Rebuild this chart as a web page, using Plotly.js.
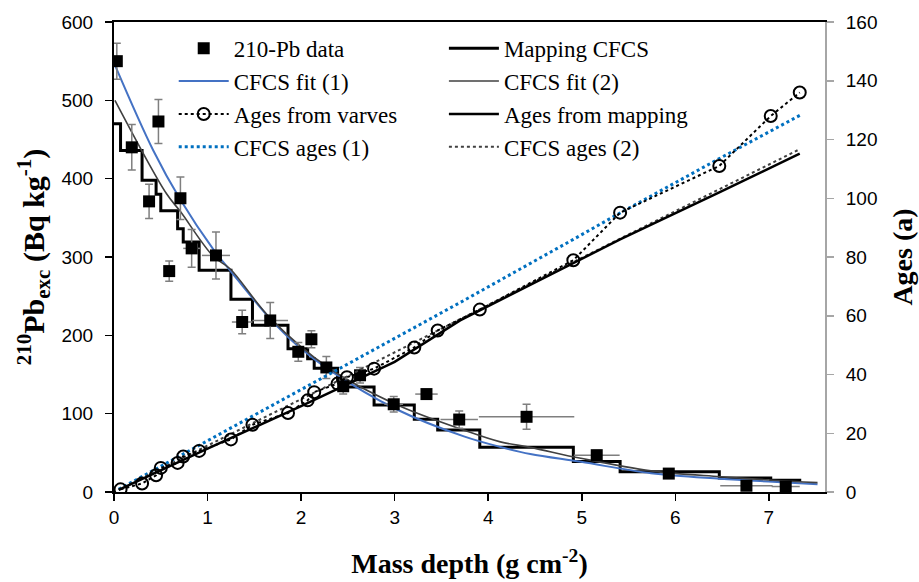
<!DOCTYPE html>
<html>
<head>
<meta charset="utf-8">
<script src="https://cdn.plot.ly/plotly-3.0.1.min.js"></script>
<style>html,body{margin:0;padding:0;background:#fff;}#chart{width:919px;height:582px;}</style>
</head>
<body>
<div id="chart"></div>
<script>
// 210-Pb excess data (left axis)
const pbDepth = [0.03, 0.19, 0.375, 0.475, 0.59, 0.71, 0.83, 1.09, 1.37, 1.67, 1.97, 2.11, 2.27, 2.45, 2.63, 2.99, 3.34, 3.69, 4.41, 5.16, 5.93, 6.76, 7.18];
const pbValue = [550, 440, 371, 473, 282, 375, 311, 302, 217, 219, 179, 195, 159, 135, 149, 112, 125, 92.5, 96, 47, 23.5, 8, 7];
const pbErrY = [23, 29, 22, 28, 13, 27, 24, 30, 15, 23, 12, 11, 14, 10, 10, 10, 6, 11, 16, 6, 4, 3, 3];
const pbErrX = [0, 0, 0, 0, 0, 0, 0.09, 0.15, 0.11, 0.19, 0, 0, 0, 0, 0, 0.1, 0.12, 0.2, 0.51, 0.245, 0, 0.28, 0.15];

// Mapping CFCS step profile (boundaries and levels)
const mapDepth = [0, 0.07, 0.30, 0.45, 0.50, 0.68, 0.74, 0.91, 1.25, 1.48, 1.86, 2.07, 2.14, 2.39, 2.49, 2.78, 3.21, 3.46, 3.91, 4.91, 5.41, 6.47, 7.02, 7.33];
const mapValue = [470, 436, 398, 380, 359, 336, 319, 283, 246, 213, 183, 170, 158, 142, 134, 111, 93, 79, 57, 39, 26, 18, 15, 13];

// CFCS fit (1)
const fit1Depth = [0.01, 0.42, 0.71, 1.06, 1.24, 1.67, 1.96, 2.3, 3.03, 3.74, 4.13, 4.45, 4.99, 5.74, 6.48, 7.04, 7.52];
const fit1Value = [545, 436, 373, 310, 283, 221, 187, 156, 105, 71, 57.5, 48.5, 38.5, 24, 17, 13, 9.8];
// CFCS fit (2)
const fit2Depth = [0.01, 0.56, 0.71, 1.06, 1.24, 1.67, 2.3, 3.03, 3.74, 4.13, 4.45, 4.99, 5.74, 6.48, 7.04, 7.52];
const fit2Value = [500, 381, 358, 301, 285, 222, 158, 111, 79, 64, 57, 43, 27, 19.5, 15, 12];

// Ages from varves (right axis)
const varveDepth = [0.07, 0.30, 0.45, 0.50, 0.68, 0.74, 0.91, 1.25, 1.48, 1.86, 2.07, 2.14, 2.39, 2.49, 2.78, 3.21, 3.46, 3.91, 4.91, 5.41, 6.47, 7.02, 7.33];
const varveAge = [0.9, 2.9, 5.7, 8.2, 9.9, 12.1, 14, 17.9, 22.9, 26.9, 31.2, 34, 36.9, 39.1, 42, 49.2, 55, 62.1, 78.9, 95.1, 111, 128, 136];

// Ages from mapping
const mapAgeDepth = [0.05, 1, 2, 3, 3.7, 4.91, 5.41, 6.47, 7.33];
const mapAge = [0.7, 14.8, 29.2, 44.3, 58.4, 77.8, 86, 102, 115.2];
// CFCS ages (1)
const age1Depth = [0.05, 1, 2, 3, 3.7, 4.91, 5.41, 6.47, 7.33];
const age1 = [0.9, 17.5, 35, 52.3, 64.5, 86, 95, 113.5, 128.2];
// CFCS ages (2)
const age2Depth = [0.05, 2.5, 4.91, 7.33];
const age2 = [0.8, 39.5, 78.3, 116.7];

const xTicks = [0, 1, 2, 3, 4, 5, 6, 7];

const serif = "Liberation Serif";
const sans = "Liberation Sans";

const traces = [
  {x: mapDepth, y: mapValue, name: 'Mapping CFCS', type: 'scatter', mode: 'lines',
   line: {color: '#000000', width: 3, shape: 'hv'}, legend: 'legend2', legendrank: 1},
  {x: fit1Depth, y: fit1Value, name: 'CFCS fit (1)', type: 'scatter', mode: 'lines',
   line: {color: '#4472C4', width: 2, shape: 'spline'}, legend: 'legend', legendrank: 2},
  {x: fit2Depth, y: fit2Value, name: 'CFCS fit (2)', type: 'scatter', mode: 'lines',
   line: {color: '#404040', width: 1.6, shape: 'spline'}, legend: 'legend2', legendrank: 2},
  {x: age1Depth, y: age1, name: 'CFCS ages (1)', type: 'scatter', mode: 'lines', yaxis: 'y2',
   line: {color: '#0070C0', width: 3, dash: 'dot'}, legend: 'legend', legendrank: 4},
  {x: age2Depth, y: age2, name: 'CFCS ages (2)', type: 'scatter', mode: 'lines', yaxis: 'y2',
   line: {color: '#404040', width: 2, dash: 'dot'}, legend: 'legend2', legendrank: 4},
  {x: mapAgeDepth, y: mapAge, name: 'Ages from mapping', type: 'scatter', mode: 'lines', yaxis: 'y2',
   line: {color: '#000000', width: 2.5}, legend: 'legend2', legendrank: 3},
  {x: varveDepth, y: varveAge, name: 'Ages from varves', type: 'scatter', mode: 'lines+markers', yaxis: 'y2',
   line: {color: '#000000', width: 2, dash: 'dot'},
   marker: {symbol: 'circle-open', size: 12, color: '#000000', line: {width: 2, color: '#000000'}},
   legend: 'legend', legendrank: 3},
  {x: pbDepth, y: pbValue, name: '210-Pb data', type: 'scatter', mode: 'markers',
   marker: {symbol: 'square', size: 12, color: '#000000'},
   error_y: {type: 'data', array: pbErrY, visible: true, color: '#7F7F7F', thickness: 1.5, width: 4},
   error_x: {type: 'data', array: pbErrX, visible: true, color: '#7F7F7F', thickness: 1.5, width: 0},
   legend: 'legend', legendrank: 1}
];

function legendCfg(xPos) {
  return {
    orientation: 'v', xanchor: 'left', yanchor: 'top', x: xPos, y: 0.99,
    bgcolor: 'rgba(0,0,0,0)', borderwidth: 0, itemwidth: 50, tracegroupgap: 0,
    font: {family: serif, size: 23, color: '#000000'}
  };
}

const layout = {
  width: 919, height: 582,
  margin: {l: 114, r: 94, t: 22, b: 90},
  paper_bgcolor: '#ffffff', plot_bgcolor: '#ffffff',
  font: {family: serif, color: '#000000'},
  showlegend: true,
  legend: legendCfg(0.084),
  legend2: legendCfg(0.464),
  xaxis: {
    range: [0, 7.6], tickvals: xTicks, ticktext: xTicks.map(String),
    showgrid: false, zeroline: false,
    showline: true, linecolor: '#000000', linewidth: 2, mirror: true,
    ticks: 'outside', ticklen: 7, tickwidth: 1.5, tickcolor: '#000000',
    tickfont: {family: sans, size: 19, color: '#000000'},
    title: {text: 'Mass depth (g cm<sup>-2</sup>)', font: {family: serif, size: 28, color: '#000000', weight: 700}, standoff: 27}
  },
  yaxis: {
    range: [0, 600], dtick: 100, showgrid: false, zeroline: false,
    showline: true, linecolor: '#000000', linewidth: 2,
    ticks: 'outside', ticklen: 7, tickwidth: 1.5, tickcolor: '#000000', ticklabelstandoff: 8,
    tickfont: {family: sans, size: 19, color: '#000000'},
    title: {text: '<sup>210</sup>Pb<sub>exc</sub> (Bq kg<sup>-1</sup>)', font: {family: serif, size: 30, color: '#000000', weight: 700}, standoff: 8}
  },
  yaxis2: {
    range: [0, 160], dtick: 20, overlaying: 'y', side: 'right',
    showgrid: false, zeroline: false,
    showline: true, linecolor: '#A6A6A6', linewidth: 2,
    ticks: 'outside', ticklen: 7, tickwidth: 1.5, tickcolor: '#A6A6A6', ticklabelstandoff: 8,
    tickfont: {family: sans, size: 19, color: '#000000'},
    title: {text: 'Ages (a)', font: {family: serif, size: 28, color: '#000000', weight: 700}, standoff: 16}
  }
};

Plotly.newPlot('chart', traces, layout, {displayModeBar: false, staticPlot: true});
</script>
</body>
</html>
